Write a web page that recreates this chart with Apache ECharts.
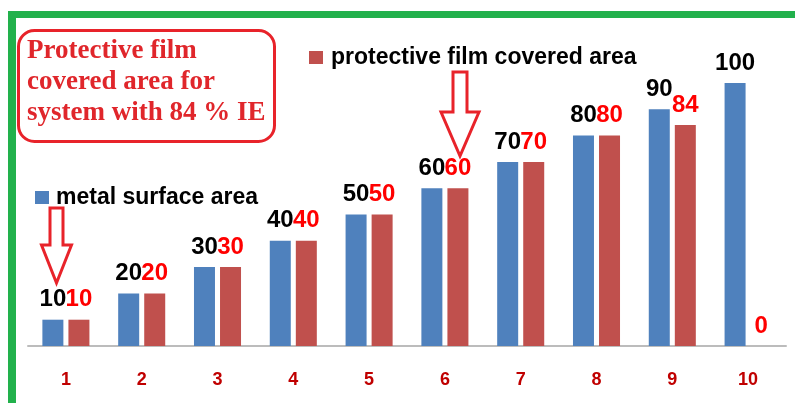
<!DOCTYPE html>
<html>
<head>
<meta charset="utf-8">
<script src="https://cdn.jsdelivr.net/npm/echarts@6/dist/echarts.min.js"></script>
<style>
  html, body { margin: 0; padding: 0; background: #fff; }
  #chart { width: 795px; height: 403px; }
</style>
</head>
<body>
<div id="chart"></div>
<script>
const categories = ['1', '2', '3', '4', '5', '6', '7', '8', '9', '10'];
const metalSurfaceArea = [10, 20, 30, 40, 50, 60, 70, 80, 90, 100];
const protectiveFilmArea = [10, 20, 30, 40, 50, 60, 70, 80, 84, 0];
const seriesNames = ['metal surface area', 'protective film covered area'];
const noteLines = ['Protective film', 'covered area for', 'system with 84 % IE'];

const chart = echarts.init(document.getElementById('chart'), null, { renderer: 'canvas' });

function arrow(x, yTop, shaftW, headW, headStart, tip) {
  const s = shaftW / 2, h = headW / 2;
  return {
    type: 'polygon',
    shape: { points: [
      [x - s, yTop], [x + s, yTop], [x + s, headStart], [x + h, headStart],
      [x, tip], [x - h, headStart], [x - s, headStart]
    ] },
    style: { fill: '#fff', stroke: '#e8232a', lineWidth: 3 },
    z: 100
  };
}

const sansFamily = '"Liberation Sans", Arial, sans-serif';
const labelFont = { fontFamily: sansFamily, fontWeight: 'bold', fontSize: 24 };

chart.setOption({
  animation: false,
  backgroundColor: '#fff',
  grid: { left: 28, right: 9, top: 83, bottom: 57, containLabel: false },
  legend: [
    {
      data: [seriesNames[0]], left: 30, top: 181, icon: 'rect', itemWidth: 14, itemHeight: 13, itemGap: 0,
      textStyle: { color: '#000', fontSize: 23, fontWeight: 'bold', fontFamily: sansFamily, padding: [0, 0, 0, 2] },
      selectedMode: false
    },
    {
      data: [seriesNames[1]], left: 304, top: 41, icon: 'rect', itemWidth: 14, itemHeight: 13, itemGap: 0,
      textStyle: { color: '#000', fontSize: 23, fontWeight: 'bold', fontFamily: sansFamily, padding: [0, 0, 0, 3] },
      selectedMode: false
    }
  ],
  xAxis: {
    type: 'category',
    data: categories,
    axisLine: { lineStyle: { color: '#bcbcbc', width: 2 } },
    axisTick: { show: false },
    axisLabel: { color: '#c00000', fontSize: 18, fontWeight: 'bold', fontFamily: sansFamily, margin: 25 }
  },
  yAxis: { type: 'value', min: 0, max: 100, show: false, splitLine: { show: false } },
  series: [
    {
      name: seriesNames[0], type: 'bar', data: metalSurfaceArea, barWidth: 21, barGap: '24%',
      itemStyle: { color: '#4f81bd' },
      label: Object.assign({ show: true, position: 'top', distance: 8, color: '#000' }, labelFont)
    },
    {
      name: seriesNames[1], type: 'bar', data: protectiveFilmArea, barWidth: 21,
      itemStyle: { color: '#c0504d' },
      label: Object.assign({ show: true, position: 'top', distance: 8, color: '#ff0000' }, labelFont)
    }
  ],
  graphic: [
    { type: 'rect', shape: { x: 8, y: 11, width: 787, height: 7 }, style: { fill: '#22b14c' }, z: 50 },
    { type: 'rect', shape: { x: 8, y: 11, width: 8, height: 392 }, style: { fill: '#22b14c' }, z: 50 },
    { type: 'rect', shape: { x: 18.5, y: 30.5, width: 256, height: 111, r: 16 }, style: { fill: '#fff', stroke: '#e8232a', lineWidth: 3 }, z: 60 },
    {
      type: 'text', left: 27, top: 36, z: 61,
      style: {
        text: noteLines.join('\n'), fill: '#e0262b',
        font: 'bold 27px "Liberation Serif", "Times New Roman", serif', lineHeight: 31
      }
    },
    arrow(56.5, 208, 13, 30, 245, 283),
    arrow(460, 72, 14, 38, 112, 156)
  ]
});
</script>
</body>
</html>
